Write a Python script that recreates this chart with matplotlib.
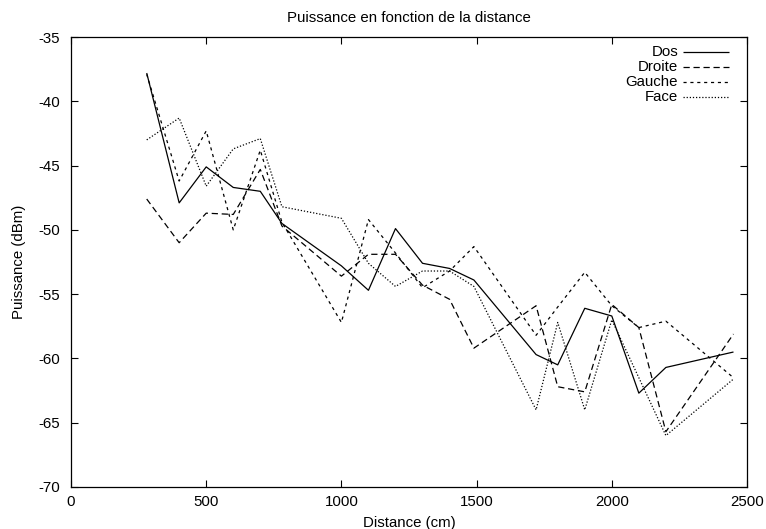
import matplotlib
matplotlib.use("Agg")
import matplotlib.pyplot as plt

plt.rcParams["font.family"] = ["Liberation Sans", "DejaVu Sans"]
plt.rcParams["axes.unicode_minus"] = False

distance = [280, 400, 500, 600, 700, 780, 1000, 1100, 1200, 1300, 1400, 1490,
            1720, 1800, 1900, 2000, 2100, 2200, 2450]
dos = [-37.8, -47.9, -45.1, -46.7, -47.0, -49.5, -52.8, -54.7, -49.9, -52.6,
       -53.0, -53.9, -59.7, -60.5, -56.1, -56.7, -62.7, -60.7, -59.5]
droite = [-47.6, -51.0, -48.7, -48.8, -45.3, -49.7, -53.6, -51.9, -51.9, -54.3,
          -55.4, -59.2, -55.9, -62.2, -62.6, -55.8, -57.6, -65.7, -58.1]
gauche = [-37.9, -46.2, -42.3, -50.0, -43.8, -49.4, -57.2, -49.2, -51.8, -54.5,
          -53.2, -51.3, -58.2, -56.0, -53.3, -55.9, -57.6, -57.1, -61.5]
face = [-43.0, -41.3, -46.6, -43.7, -42.9, -48.2, -49.1, -52.6, -54.4, -53.2,
        -53.2, -54.4, -64.0, -57.2, -64.0, -57.0, -61.5, -66.0, -61.6]

series = [("Dos", dos, (0, ())),
          ("Droite", droite, (0, (5, 3))),
          ("Gauche", gauche, (0, (2.5, 3))),
          ("Face", face, (0, (1, 1.5)))]

fs = 10.8

fig = plt.figure(figsize=(7.66, 5.29), dpi=100)
ax = fig.add_axes([0.0927, 0.0794, 0.8825, 0.8506])

for name, vals, ls in series:
    ax.plot(distance, vals, color="black", lw=0.9, linestyle=ls)

ax.set_xlim(0, 2500)
ax.set_ylim(-70, -35)
ax.set_xticks(range(0, 2501, 500))
ax.set_yticks(range(-70, -34, 5))
ax.tick_params(direction="in", top=True, right=True, length=5, width=0.8,
               labelsize=fs, pad=6)
ax.tick_params(axis="y", pad=8)
for s in ax.spines.values():
    s.set_linewidth(0.9)

ax.set_title("Puissance en fonction de la distance", fontsize=fs, pad=11)
ax.set_xlabel("Distance (cm)", fontsize=fs, labelpad=5)
ax.set_ylabel("Puissance (dBm)", fontsize=fs)
ax.yaxis.set_label_coords(-0.066, 0.5)

# gnuplot-style key: text right-aligned, sample line after it
for i, (name, vals, ls) in enumerate(series):
    y = 0.966 - i * 0.0329
    ax.text(0.898, y, name, transform=ax.transAxes, ha="right", va="center",
            fontsize=fs)
    ax.plot([0.906, 0.973], [y, y], transform=ax.transAxes, color="black",
            lw=0.9, linestyle=ls)

fig.savefig("out.png", dpi=100)
